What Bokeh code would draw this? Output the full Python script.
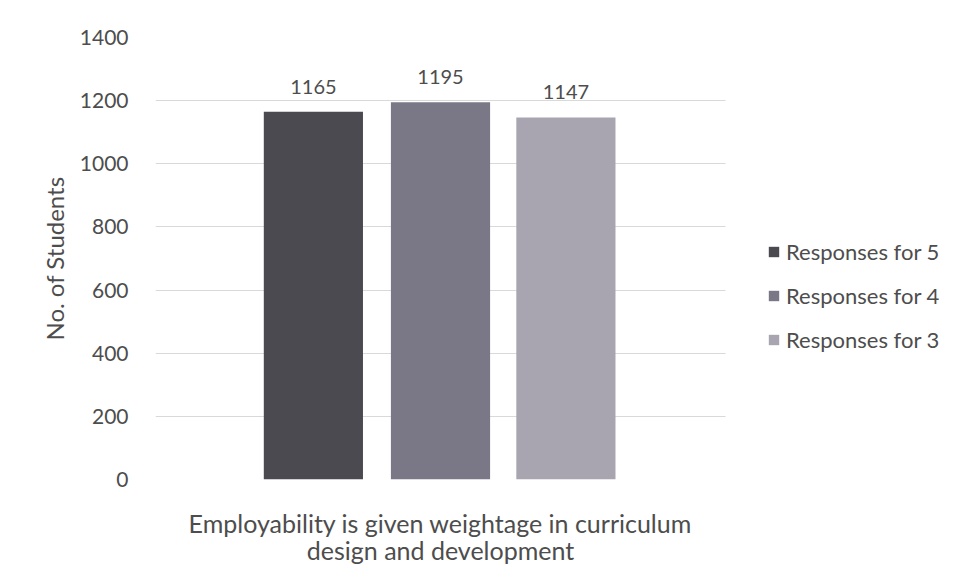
from bokeh.plotting import figure
from bokeh.models import Range1d, Legend, LegendItem, ColumnDataSource, LabelSet, FixedTicker, BoxAnnotation
from bokeh.core.properties import value
from bokeh.embed import file_html
from bokeh.resources import INLINE

category = "Employability is given weightage in curriculum\ndesign and development"
series = ["Responses for 5", "Responses for 4", "Responses for 3"]
values = [1165, 1195, 1147]
colors = ["#4a4a50", "#7a7887", "#a8a5b1"]
y_ticks = [0, 200, 400, 600, 800, 1000, 1200, 1400]

FONT = "Lato"
TXT = "#4d4d4d"

W, H = 940, 568
LEFT, TOP, BOTTOM = 155, 37, H - 482
CAT_PX = 570.0  # pixel width of the single category slot
x_end = (W - LEFT) / CAT_PX

p = figure(width=W, height=H, x_range=Range1d(0, x_end), y_range=Range1d(0, 1400),
           output_backend="svg", toolbar_location=None,
           min_border_left=LEFT, min_border_right=0, min_border_top=TOP, min_border_bottom=BOTTOM)
p.outline_line_color = None
p.xgrid.grid_line_color = None
p.ygrid.grid_line_color = "#d9d9d9"
p.ygrid.grid_line_width = 1
if "cross_bounds" in p.ygrid[0].properties():
    p.ygrid.cross_bounds = (0, 1.0)
else:
    p.add_layout(BoxAnnotation(left=1.0, fill_color="white", fill_alpha=1, line_color=None, level="underlay"))

cat_center = 0.5
offsets = [-0.223, 0.0, 0.22]
items = []
for name, v, c, off in zip(series, values, colors, offsets):
    src = ColumnDataSource(dict(x=[cat_center + off], top=[v], lbl=[str(v)]))
    r = p.vbar(x="x", top="top", width=0.174, source=src, fill_color=c, line_color=None)
    items.append(LegendItem(label=name, renderers=[r]))
    labels = LabelSet(x="x", y="top", text="lbl", source=src,
                      text_align="center", text_baseline="bottom", y_offset=18,
                      text_font=value(FONT), text_font_size=value("20px"), text_color=TXT)
    p.add_layout(labels)

p.yaxis.ticker = FixedTicker(ticks=y_ticks)
p.yaxis.axis_line_color = None
p.yaxis.major_tick_line_color = None
p.yaxis.minor_tick_line_color = None
p.yaxis.major_label_standoff = 21
p.yaxis.major_label_text_font = FONT
p.yaxis.major_label_text_font_size = "21px"
p.yaxis.major_label_text_color = TXT
p.yaxis.axis_label = "No. of Students"
p.yaxis.axis_label_text_font = FONT
p.yaxis.axis_label_text_font_size = "24px"
p.yaxis.axis_label_text_font_style = "normal"
p.yaxis.axis_label_text_color = TXT
p.yaxis.axis_label_standoff = 8

p.xaxis.ticker = FixedTicker(ticks=[cat_center])
p.xaxis.major_label_overrides = {cat_center: category}
p.xaxis.axis_line_color = None
p.xaxis.major_tick_line_color = None
p.xaxis.minor_tick_line_color = None
p.xaxis.major_label_standoff = 22
p.xaxis.major_label_text_font = FONT
p.xaxis.major_label_text_font_size = "25px"
p.xaxis.major_label_text_line_height = 0.93
p.xaxis.major_label_text_color = TXT

legend = Legend(items=items, location=(612, 126), orientation="vertical",
                glyph_width=13, glyph_height=13, label_standoff=6, spacing=17,
                label_text_font=FONT, label_text_font_size="22px", label_text_color=TXT,
                border_line_color=None, background_fill_alpha=0, padding=0, margin=0,
                label_height=24)
p.add_layout(legend, "center")

open("out.html", "w").write(file_html(p, INLINE))
